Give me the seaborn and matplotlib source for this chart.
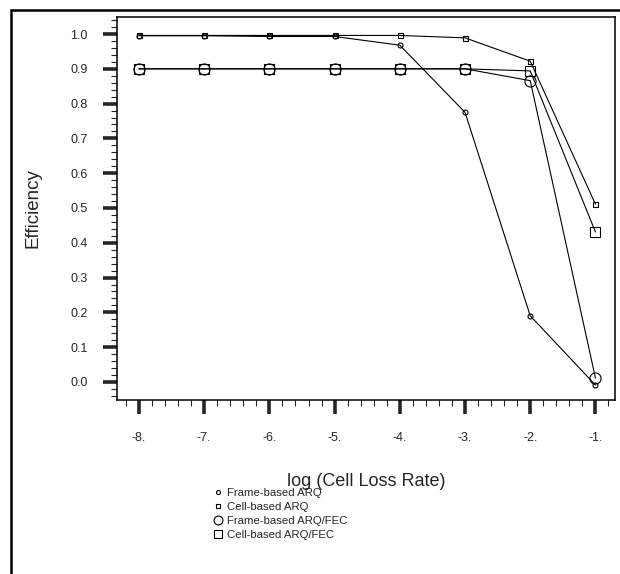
import numpy as np
import pandas as pd
import seaborn as sns
import matplotlib.pyplot as plt
from matplotlib.lines import Line2D
from matplotlib.patches import Rectangle
from matplotlib.ticker import MultipleLocator, FormatStrFormatter

# datos
log_clr = [-8, -7, -6, -5, -4, -3, -2, -1]
frame_arq = [0.995, 0.995, 0.993, 0.993, 0.968, 0.775, 0.190, -0.009]
cell_arq = [0.996, 0.996, 0.996, 0.996, 0.996, 0.989, 0.922, 0.511]
frame_arq_fec = [0.900, 0.900, 0.900, 0.900, 0.900, 0.900, 0.866, 0.011]
cell_arq_fec = [0.900, 0.900, 0.900, 0.900, 0.900, 0.900, 0.894, 0.431]

nombres = ["Frame-based ARQ", "Cell-based ARQ", "Frame-based ARQ/FEC", "Cell-based ARQ/FEC"]
marcadores = ["o", "s", "o", "s"]
tamanos = [3.6, 3.6, 8, 7]

sns.set_style("white")
plt.rcParams['font.family'] = ['Liberation Sans', 'DejaVu Sans']

fig = plt.figure(figsize=(6.2, 5.74), dpi=100)
ax = fig.add_axes([117 / 620, 1 - 400 / 574, (615 - 117) / 620, (400 - 17) / 574])

series = [frame_arq, cell_arq, frame_arq_fec, cell_arq_fec]
for nombre, valores, m, s in zip(nombres, series, marcadores, tamanos):
    df = pd.DataFrame({"x": log_clr, "y": valores})
    sns.lineplot(data=df, x="x", y="y", ax=ax, color="black", linewidth=0.8,
                 marker=m, markersize=s, markerfacecolor="none",
                 markeredgecolor="black", markeredgewidth=0.8, legend=False)

ax.set_xlim(-8.337, -0.70)
ax.set_ylim(-0.052, 1.049)
ax.set_xlabel("")
ax.set_ylabel("")

ax.xaxis.set_major_locator(MultipleLocator(1))
ax.xaxis.set_minor_locator(MultipleLocator(0.2))
ax.yaxis.set_major_locator(MultipleLocator(0.1))
ax.yaxis.set_minor_locator(MultipleLocator(0.02))
ax.xaxis.set_major_formatter(FormatStrFormatter("%d."))
ax.yaxis.set_major_formatter(FormatStrFormatter("%.1f"))

ax.tick_params(which="major", direction="out", length=10, width=2.6,
               labelsize=9, pad=11, left=True, bottom=True, top=False, right=False)
ax.tick_params(axis="x", which="major", pad=13)
ax.tick_params(which="minor", direction="out", length=4.5, width=0.8,
               left=True, bottom=True, top=False, right=False)
for sp in ax.spines.values():
    sp.set_linewidth(1.1)
    sp.set_color("black")

fig.text(366 / 620, 1 - 482 / 574, "log (Cell Loss Rate)", ha="center", va="center", fontsize=13)
fig.text(33 / 620, 1 - 208 / 574, "Efficiency", ha="center", va="center",
         rotation=90, fontsize=13.5)

# leyenda con solo marcadores
handles = [Line2D([], [], linestyle="none", marker=m, markersize=s * 0.8,
                  markerfacecolor="none", markeredgecolor="black", markeredgewidth=0.8)
           for m, s in zip(marcadores, tamanos)]
fig.legend(handles, nombres, loc="upper left", bbox_to_anchor=(213 / 620, 1 - 488 / 574),
           frameon=False, fontsize=8.2, handlelength=0.9, handletextpad=0.35,
           labelspacing=0.35, borderpad=0, borderaxespad=0)

# marco exterior
fig.add_artist(Rectangle((11 / 620, -0.05), 1.1, 1 - 10 / 574 + 0.05,
                         transform=fig.transFigure, fill=False,
                         edgecolor="black", linewidth=1.8, clip_on=False))

plt.savefig("out.png", dpi=100)
